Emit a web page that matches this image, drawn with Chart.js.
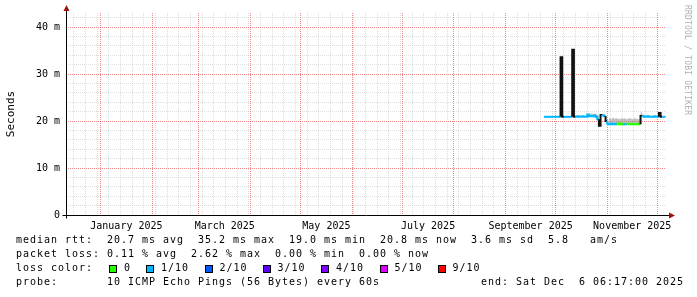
<!DOCTYPE html>
<html>
<head>
<meta charset="utf-8">
<script src="https://cdn.jsdelivr.net/npm/chart.js@4/dist/chart.umd.min.js"></script>
<style>
  body { margin: 0; background: #fff; }
  #wrap { position: relative; width: 697px; height: 297px; background: #fff; }
  #wrap canvas { position: absolute; left: 0; top: 0; }
  .row { position: absolute; left: 16px; height: 14px; line-height: 14px; font: 10px "DejaVu Sans Mono", monospace; letter-spacing: 0.98px; color: #000; white-space: pre; }
  .box { position: absolute; width: 6px; height: 6px; border: 1px solid #000; top: 3px; }
  .lbl { position: absolute; top: 0; }
  #brand { position: absolute; left: 683px; top: 5px; writing-mode: vertical-rl; font: 8px "DejaVu Sans Mono", monospace; color: #b0b0b0; letter-spacing: 0.2px; }
</style>
</head>
<body>
<div id="wrap">
  <canvas id="myChart" width="697" height="297"></canvas>
  <div id="brand">RRDTOOL / TOBI OETIKER</div>
  <div class="row" style="top:234px">median rtt:  20.7 ms avg  35.2 ms max  19.0 ms min  20.8 ms now  3.6 ms sd  5.8   am/s</div>
  <div class="row" style="top:248px">packet loss: 0.11 % avg  2.62 % max  0.00 % min  0.00 % now</div>
  <div class="row" id="lossRow" style="top:262px">loss color:</div>
  <div class="row" style="top:276px">probe:       10 ICMP Echo Pings (56 Bytes) every 60s</div>
  <div class="row" style="top:276px; left:481px">end: Sat Dec  6 06:17:00 2025</div>
</div>
<script>
// first sample day and daily median rtt (ms), Sep 24 .. Dec 6 2025
const firstDay = [2025, 9, 24]
const rttMedian = [
    20.9, 20.9, 20.9, 20.9, 20.9, 20.9, 20.9, 20.9, 20.9, 20.9, 20.9,
    33.6,
    20.9, 20.9, 20.9, 20.9, 20.9, 20.9,
    35.2,
    20.9, 20.9, 21.0, 20.9, 20.9, 21.0, 20.9, 20.9,
    21.4,
    21.0, 21.1, 21.0, 21.2, 20.9,
    20.4,
    19.0,
    21.3, 21.2, 21.1,
    20.0,
    19.4, 19.3, 19.4, 19.3, 19.3, 19.4, 19.3, 19.5, 19.3, 19.4,
    19.3, 19.3, 19.4, 19.3, 19.3, 19.4, 19.3, 19.3, 19.4, 19.3,
    21.1, 21.0, 20.9, 20.9, 21.0, 20.9, 20.9, 20.9, 21.0, 20.9, 20.9,
    21.7,
    20.9, 20.9, 20.9
]
// loss in tenths per day
const lossTenths = [
    1, 1, 1, 1, 1, 1, 1, 1, 1, 1, 1, 1, 1, 1, 1, 1, 1, 1, 1, 1,
    1, 1, 1, 1, 1, 1, 1, 1, 1, 1, 1, 1, 1, 1, 0, 1, 1, 1, 1,
    1, 1, 1, 1, 1, 0, 0, 0, 0, 1, 1, 0, 0, 0, 0, 0, 0, 0, 0, 1,
    1, 1, 1, 1, 1, 1, 1, 1, 1, 1, 1, 1, 1, 1, 1
]
// top of the smoke band (null = no smoke)
const smokeHigh = [
    null, null, null, null, null, null, null, null, null, null, null,
    null, null, null, null, null, null, null, null, null, null, null,
    null, null, null, null, null,
    21.7, 21.5, 21.6, 21.5, 21.6, 21.4, 21.2,
    null,
    21.7, 21.6, 21.5,
    null,
    20.5, 20.6, 20.4, 20.7, 20.5, 20.6, 20.5, 20.4, 20.6, 20.5,
    20.6, 20.4, 20.5, 20.6, 20.5, 20.4, 20.6, 20.5, 20.4, 20.5,
    21.8, 21.4, 21.3,
    null, null, null, null, null, null, null, null, null, null, null, null
]

const lossNames = ['0', '1/10', '2/10', '3/10', '4/10', '5/10', '9/10']
const lossColors = ['#26ff00', '#00b8ff', '#0059ff', '#5e00ff', '#7e00ff', '#dd00ff', '#ff0000']

const yTicks = [0, 10, 20, 30, 40]
const yTickLabels = ['0', '10 m', '20 m', '30 m', '40 m']
const monthLabels = ['January 2025', 'March 2025', 'May 2025', 'July 2025', 'September 2025', 'November 2025']
const labelMonths = [1, 3, 5, 7, 9, 11]

const endDay = dayOf(2025, 12, 6) + (6 * 60 + 17) / 1440
const startDay = endDay - 360

function dayOf(y, m, d) {
    return (Date.UTC(y, m - 1, d) - Date.UTC(2025, 0, 1)) / 864e5
}

// loss legend row
const lossRow = document.getElementById('lossRow')
const boxX = [93, 130, 188.5, 246.5, 305, 363.5, 421.5]
lossNames.forEach((name, i) => {
    const b = document.createElement('span')
    b.className = 'box'
    b.style.left = boxX[i] + 'px'
    b.style.background = lossColors[i]
    lossRow.appendChild(b)
    const t = document.createElement('span')
    t.className = 'lbl'
    t.style.left = (boxX[i] + 15) + 'px'
    t.textContent = name
    lossRow.appendChild(t)
})

// x ticks: month starts (red), mid-month labels, weekly minor lines
const tickKind = {}
const xTickValues = []
for (let m = 0; m <= 12; m++) {
    const v = m === 0 ? dayOf(2024, 12, 1) : dayOf(2025, m, 1)
    if (v >= startDay && v <= endDay) { tickKind[v] = 'major'; xTickValues.push(v) }
}
labelMonths.forEach((m, i) => {
    const v = (dayOf(2025, m, 1) + dayOf(2025, m + 1, 1)) / 2
    tickKind[v] = monthLabels[i]
    xTickValues.push(v)
})
for (let v = dayOf(2024, 12, 16); v <= endDay; v += 7) {
    if (v >= startDay && !(v in tickKind)) { tickKind[v] = 'minor'; xTickValues.push(v) }
}
xTickValues.sort((a, b) => a - b)

const yTickValues = []
for (let v = 0; v <= 42; v += 2) yTickValues.push(v)

const d0 = dayOf(firstDay[0], firstDay[1], firstDay[2])
const medianPts = rttMedian.map((v, i) => ({ x: d0 + i, y: v }))
const lowPts = rttMedian.map((v, i) => ({ x: d0 + i, y: smokeHigh[i] === null ? null : v }))
const highPts = smokeHigh.map((v, i) => ({ x: d0 + i, y: v }))

const majorColor = 'rgba(230,60,60,0.6)'
const minorColor = 'rgba(160,160,160,0.35)'

const axesPlugin = {
    id: 'rrdAxes',
    afterDraw(chart) {
        const { ctx, chartArea } = chart
        const x0 = Math.round(chartArea.left) + 0.5
        const y0 = Math.round(chartArea.bottom) + 0.5
        ctx.save()
        ctx.strokeStyle = '#000'
        ctx.lineWidth = 1
        ctx.beginPath()
        ctx.moveTo(x0 - 4, y0); ctx.lineTo(chartArea.right + 5, y0)
        ctx.moveTo(x0, y0 + 3); ctx.lineTo(x0, chartArea.top - 4)
        ctx.stroke()
        ctx.fillStyle = '#9b1010'
        ctx.beginPath()
        ctx.moveTo(chartArea.right + 3, y0 - 3); ctx.lineTo(chartArea.right + 9, y0); ctx.lineTo(chartArea.right + 3, y0 + 3)
        ctx.fill()
        ctx.beginPath()
        ctx.moveTo(x0 - 3, chartArea.top - 2); ctx.lineTo(x0, chartArea.top - 8); ctx.lineTo(x0 + 3, chartArea.top - 2)
        ctx.fill()
        ctx.restore()
    }
}

const ctx = document.getElementById('myChart')

new Chart(ctx, {
    type: 'line',
    data: {
        datasets: [{
            data: medianPts,
            stepped: 'after',
            borderWidth: 2,
            pointRadius: 0,
            borderColor: lossColors[1],
            segment: {
                borderColor: c => {
                    if (Math.abs(c.p1.parsed.y - c.p0.parsed.y) > 0.8) return '#111'
                    return lossColors[lossTenths[c.p0DataIndex]]
                }
            }
        }, {
            data: lowPts,
            stepped: 'after',
            borderWidth: 0,
            pointRadius: 0,
            fill: false
        }, {
            data: highPts,
            stepped: 'after',
            borderWidth: 0,
            pointRadius: 0,
            backgroundColor: 'rgba(150,150,150,0.6)',
            fill: '-1'
        }]
    },
    options: {
        responsive: false,
        animation: false,
        devicePixelRatio: 1,
        layout: { padding: { left: 0, top: 13, right: 31, bottom: 65 } },
        plugins: { legend: { display: false }, tooltip: { enabled: false } },
        scales: {
            x: {
                type: 'linear',
                min: startDay,
                max: endDay,
                afterFit: s => { s.height = 17 },
                afterBuildTicks: s => { s.ticks = xTickValues.map(v => ({ value: v })) },
                border: { display: false, dash: [1, 1] },
                grid: {
                    drawTicks: false,
                    lineWidth: 1,
                    color: c => {
                        const k = tickKind[c.tick && c.tick.value]
                        if (k === 'major') return majorColor
                        if (k === 'minor') return minorColor
                        return 'rgba(0,0,0,0)'
                    }
                },
                ticks: {
                    autoSkip: false,
                    maxRotation: 0,
                    padding: 5,
                    color: '#000',
                    font: { family: 'DejaVu Sans Mono', size: 10 },
                    callback: v => {
                        const k = tickKind[v]
                        return (k && k !== 'major' && k !== 'minor') ? k : ''
                    }
                }
            },
            y: {
                min: 0,
                max: 43,
                afterFit: s => { s.width = 66 },
                afterBuildTicks: s => { s.ticks = yTickValues.map(v => ({ value: v })) },
                border: { display: false, dash: [1, 1] },
                grid: {
                    drawTicks: false,
                    color: c => {
                        const v = c.tick && c.tick.value
                        if (v % 10 === 0 && v > 0) return majorColor
                        if (v > 0) return minorColor
                        return 'rgba(0,0,0,0)'
                    }
                },
                ticks: {
                    autoSkip: false,
                    padding: 6,
                    color: '#000',
                    font: { family: 'DejaVu Sans Mono', size: 10 },
                    callback: v => {
                        const i = yTicks.indexOf(v)
                        return i >= 0 ? yTickLabels[i] : ''
                    }
                },
                title: {
                    display: true,
                    text: 'Seconds',
                    color: '#000',
                    padding: { top: 5, bottom: 0 },
                    font: { family: 'DejaVu Sans Mono', size: 11 }
                }
            }
        }
    },
    plugins: [axesPlugin]
})
</script>
</body>
</html>
